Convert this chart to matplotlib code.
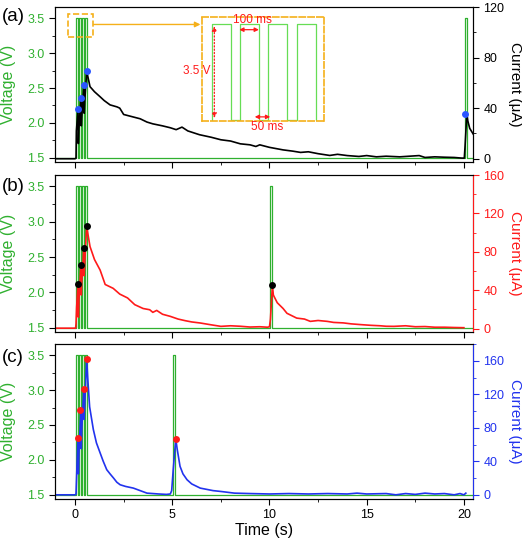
import matplotlib.pyplot as plt
import numpy as np
from matplotlib.ticker import MultipleLocator

plt.rcParams['font.family'] = ['Liberation Sans', 'DejaVu Sans']

# pulse data (s)
train_starts = [0.05, 0.20, 0.35, 0.50]
pulse_width = 0.10
v_low, v_high = 1.5, 3.5
extra_pulse = [20.05, 10.05, 5.05]

# current traces (uA)
t_a = [-1.05, 0.0, 0.05, 0.07, 0.15, 0.17, 0.2, 0.3, 0.32, 0.35, 0.45, 0.47, 0.5, 0.6,
       0.7, 0.77, 1.0, 1.29, 1.5, 1.8, 2.16, 2.3, 2.5, 3.0, 3.35, 3.7, 4.0, 4.5, 4.9,
       5.2, 5.5, 5.8, 6.4, 7.0, 7.5, 8.0, 8.5, 9.0, 9.3, 9.5, 10.0, 10.7, 11.2, 11.6,
       12.0, 12.5, 13.1, 13.5, 14.0, 14.6, 15.0, 15.5, 16.0, 16.7, 17.0, 17.7, 18.0,
       18.5, 19.0, 19.5, 19.9, 20.02, 20.06, 20.15, 20.2, 20.3, 20.5]
i_a = [0.0, 0.0, 0.5, 22, 39, 12, 24, 48, 26, 34, 58, 36, 46, 69,
       62, 57, 53, 49, 46, 42.6, 41, 40, 35, 33, 31.6, 29, 27.6, 26, 24.5,
       23, 25, 22, 19, 17, 15, 14, 11.8, 11, 9.7, 11, 9, 7, 6, 5,
       5.5, 4, 2.6, 3.5, 2.5, 1.8, 2.5, 1.5, 2, 1.5, 1.8, 2.5, 1,
       1.5, 1.2, 1.0, 0.5, 0.5, 10, 35.5, 30, 24, 19]

t_b = [-1.05, 0.03, 0.05, 0.08, 0.15, 0.17, 0.2, 0.3, 0.32, 0.35, 0.45, 0.47, 0.5, 0.6,
       0.65, 0.77, 1.0, 1.29, 1.55, 1.96, 2.3, 2.7, 3.07, 3.5, 3.84, 4.0, 4.2, 4.5, 4.9,
       5.3, 5.67, 6.0, 6.44, 7.0, 7.5, 8.0, 8.5, 9.0, 9.5, 9.9, 10.0, 10.05, 10.15,
       10.2, 10.4, 10.7, 10.9, 11.4, 11.8, 12.1, 12.5, 12.97, 13.3, 13.8, 14.2, 14.7,
       15.2, 15.7, 16.0, 16.4, 17.0, 17.5, 18.0, 18.5, 19.0, 19.5, 20.0]
i_b = [0.5, 0.5, 5, 22, 46, 12, 30, 66.5, 35, 50, 84, 55, 70, 107,
       100, 85.5, 72, 61, 46, 42, 36, 32, 25, 21, 19.7, 17, 19, 15, 12.8,
       10, 8.3, 7, 5.9, 4, 2.4, 3, 2.5, 1.7, 2, 1.5, 2, 10, 45,
       35, 27, 21, 16, 11, 10, 7.6, 8.5, 7.6, 6.5, 6, 5, 4.2,
       3.5, 3, 2.5, 2.4, 3.0, 2, 2.2, 1.5, 1.5, 1.2, 1]

t_c = [-1.05, 0.0, 0.05, 0.1, 0.15, 0.17, 0.2, 0.3, 0.32, 0.35, 0.45, 0.47, 0.5, 0.6,
       0.65, 0.75, 0.94, 1.1, 1.29, 1.45, 1.63, 1.8, 1.98, 2.15, 2.32, 2.6, 3.0, 3.35,
       3.7, 4.0, 4.3, 4.7, 4.9, 4.97, 5.05, 5.18, 5.25, 5.4, 5.55, 5.76, 6.0, 6.44,
       7.1, 7.5, 8.2, 9.0, 10.0, 11.0, 12.0, 13.0, 14.0, 14.5, 15.0, 16.0, 16.5, 17.0,
       17.5, 18.0, 18.5, 19.0, 19.5, 19.8, 20.0, 20.1]
i_c = [0.0, 0.0, 1, 35, 68, 25, 50, 101, 55, 80, 126, 90, 110, 162,
       140, 105, 78, 62, 50, 40, 30, 25, 20, 15, 12, 10, 8, 5,
       2, 1.5, 1, 0.5, 1, 5, 30, 67, 55, 34, 25, 18, 13, 8,
       5, 4, 2, 1.5, 1, 1.5, 1, 1.5, 1, 2, 1, 1.5, 0, 1.5,
       0.5, 2, 1, 1.5, 0, 1.5, 0, 2]

# peak markers
peak_t = [[0.15, 0.30, 0.45, 0.60, 20.06],
          [0.15, 0.30, 0.45, 0.60, 10.15],
          [0.17, 0.28, 0.45, 0.59, 5.18]]
peak_i = [[39, 48, 58, 69, 35.5],
          [46, 66.5, 84, 107, 45],
          [68, 101, 126, 162, 67]]

# inset pulse train (ms)
inset_starts = [0, 150, 300, 450]
inset_width = 100

panels = ['(a)', '(b)', '(c)']
cur_colors = ['black', '#ff1a1a', '#2233ee']
dot_colors = ['#2a55ff', 'black', '#ff1a1a']
cur_lims = [(-2.6, 120), (-3.5, 160), (-5, 180)]
cur_ticks = [[0, 40, 80, 120], [0, 40, 80, 120, 160], [0, 40, 80, 120, 160]]
traces = [(t_a, i_a), (t_b, i_b), (t_c, i_c)]

green = '#2fb02f'
orange = '#f5b01a'

rects = [[0.1054, 0.6994, 0.8008, 0.2876],
         [0.1054, 0.3840, 0.8008, 0.2913],
         [0.1054, 0.0742, 0.8008, 0.2876]]
label_y = [16.5, 187, 357]


def pulse_trace(starts, width, low, high, t0, t1):
    t = [t0]
    v = [low]
    for s in starts:
        t += [s, s, s + width, s + width]
        v += [low, high, high, low]
    t.append(t1)
    v.append(low)
    return t, v


fig = plt.figure(figsize=(5.22, 5.39), dpi=100)

for k in range(3):
    ax = fig.add_axes(rects[k])
    tv, vv = pulse_trace(train_starts + [extra_pulse[k]], pulse_width, v_low, v_high, -1.05, 20.5)
    ax.plot(tv, vv, color=green, lw=0.9)
    ax.set_xlim(-1.03, 20.47)
    ax.set_ylim(1.44, 3.66)
    ax.set_yticks([1.5, 2.0, 2.5, 3.0, 3.5])
    ax.yaxis.set_minor_locator(MultipleLocator(0.25))
    ax.xaxis.set_major_locator(MultipleLocator(5))
    ax.xaxis.set_minor_locator(MultipleLocator(2.5))
    ax.tick_params(which='both', direction='out', labelsize=9)
    ax.tick_params(which='major', length=4)
    ax.tick_params(which='minor', length=2.5)
    ax.tick_params(axis='y', labelcolor=green)
    ax.set_ylabel('Voltage (V)', color=green, fontsize=11.5)
    ax.yaxis.set_label_coords(-0.093, 0.5)
    if k < 2:
        ax.tick_params(axis='x', labelbottom=False)
    else:
        ax.set_xlabel('Time (s)', fontsize=11.5, labelpad=1)

    ax2 = ax.twinx()
    ax2.plot(traces[k][0], traces[k][1], color=cur_colors[k], lw=1.2)
    ax2.plot(peak_t[k], peak_i[k], 'o', color=dot_colors[k], ms=5, mec='none')
    ax2.set_ylim(*cur_lims[k])
    ax2.set_yticks(cur_ticks[k])
    ax2.yaxis.set_minor_locator(MultipleLocator(20))
    ax2.tick_params(which='both', direction='out', labelsize=9,
                    color=cur_colors[k], labelcolor=cur_colors[k])
    ax2.tick_params(which='major', length=4)
    ax2.tick_params(which='minor', length=2.5)
    ax2.spines['right'].set_color(cur_colors[k])
    ax2.set_ylabel('Current (\u03bcA)', color=cur_colors[k], fontsize=11, rotation=270)
    ax2.yaxis.set_label_coords(1.118, 0.5)

    fig.text(0.004, 1 - label_y[k] / 539, panels[k], fontsize=13.5, va='center')

    if k == 0:
        # small dashed box around the pulse train + arrow to the zoomed view
        ax.add_patch(plt.Rectangle((-0.345, 3.236), 1.29, 0.32, fill=False,
                                   ec=orange, ls='--', lw=1.2, zorder=5))
        ax.annotate('', xy=(6.45, 3.41), xytext=(0.95, 3.41),
                    arrowprops=dict(arrowstyle='-|>', color=orange, lw=1.0,
                                    mutation_scale=8, shrinkA=0, shrinkB=0))

# inset: zoomed pulse train
ins = fig.add_axes([0.3864, 0.7750, 0.2343, 0.1929])
ins.patch.set_alpha(0)
ti, vi = pulse_trace(inset_starts, inset_width, 0.0, 3.5, 0, 550)
ins.plot(ti, vi, color='#66dd55', lw=0.9)
ins.set_xlim(-53, 595)
ins.set_ylim(-0.04, 3.74)
ins.set_xticks([])
ins.set_yticks([])
for sp in ins.spines.values():
    sp.set_color(orange)
    sp.set_linestyle('--')
    sp.set_linewidth(1.2)
ins.annotate('', xy=(14, 3.42), xytext=(14, 0.08),
             arrowprops=dict(arrowstyle='<|-|>', color='#ff1a1a', lw=0.9, ls=':',
                             mutation_scale=7, shrinkA=0, shrinkB=0))
ins.text(-4, 1.78, '3.5 V', color='#ff1a1a', fontsize=8.5, ha='right', va='center', clip_on=False)
ins.annotate('', xy=(146, 3.29), xytext=(250, 3.29),
             arrowprops=dict(arrowstyle='<|-|>', color='#ff1a1a', lw=0.9,
                             mutation_scale=6, shrinkA=0, shrinkB=0))
ins.text(216, 3.66, '100 ms', color='#ff1a1a', fontsize=8.5, ha='center', va='center')
ins.annotate('', xy=(228, 0.12), xytext=(310, 0.12),
             arrowprops=dict(arrowstyle='<|-|>', color='#ff1a1a', lw=0.9,
                             mutation_scale=6, shrinkA=0, shrinkB=0))
ins.text(294, -0.25, '50 ms', color='#ff1a1a', fontsize=8.5, ha='center', va='center', clip_on=False)

fig.savefig('out.png', dpi=100)
